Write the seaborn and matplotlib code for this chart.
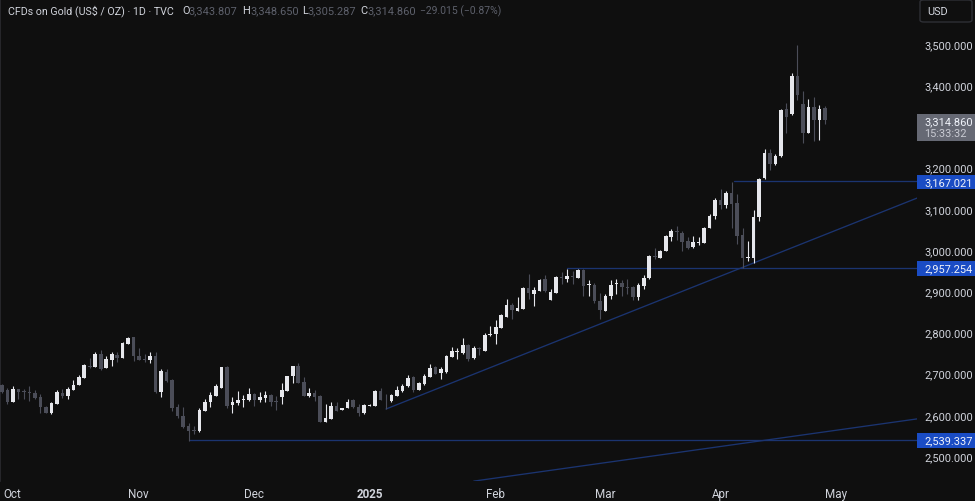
import matplotlib
matplotlib.use("Agg")
import matplotlib.pyplot as plt
from matplotlib.patches import Rectangle, FancyBboxPatch
import numpy as np
import seaborn as sns

opens = [2672,2659,2632,2662,2658,2656,2653,2642,2620,2604,2627,2654,2645,2661,2673,2690,2718,2717,2748,2714,
 2733,2746,2739,2772,2788,2742,2735,2734,2743,2656,2705,2684,2619,2598,2572,2564,2560,2609,2630,2646,
 2666,2717,2624,2629,2636,2635,2651,2637,2640,2648,2634,2644,2658,2693,2718,2679,2646,2652,2646,2583,
 2590,2621,2612,2616,2635,2620,2604,2622,2622,2658,2637,2633,2646,2658,2669,2691,2661,2674,2692,2715,
 2701,2703,2741,2753,2749,2770,2737,2763,2756,2793,2796,2811,2838,2866,2853,2857,2907,2894,2901,2929,
 2879,2896,2934,2930,2936,2933,2951,2915,2916,2876,2853,2889,2917,2919,2910,2909,2885,2913,2931,2986,
 2981,2998,3032,3045,3041,3021,3007,3017,3017,3054,3083,3121,3110,3138,3114,3037,2980,2980,3079,3174,
 3236,3208,3227,3341,3330,3422,3354,3285,3347,3316,3343.807]
highs = [2675,2664,2671,2662,2663,2669,2659,2650,2622,2630,2661,2663,2667,2684,2697,2723,2739,2752,2758,2742,
 2752,2752,2776,2790,2790,2761,2748,2752,2752,2710,2710,2687,2625,2618,2580,2574,2616,2638,2655,2675,
 2717,2719,2642,2658,2648,2665,2653,2656,2658,2651,2646,2676,2695,2719,2726,2691,2664,2659,2648,2626,
 2630,2632,2617,2638,2638,2626,2626,2625,2661,2664,2650,2650,2669,2675,2697,2693,2679,2698,2723,2718,
 2715,2746,2764,2761,2786,2772,2766,2765,2798,2816,2830,2845,2881,2871,2887,2910,2942,2909,2930,2939,
 2905,2936,2946,2955,2950,2955,2953,2928,2919,2895,2893,2926,2930,2927,2930,2913,2919,2939,2988,3004,
 3001,3036,3051,3058,3047,3031,3035,3031,3057,3087,3125,3148,3142,3166,3136,3053,3022,3097,3175,3244,
 3244,3232,3341,3357,3430,3498,3386,3367,3371,3352,3348.65]
lows = [2653,2626,2630,2638,2638,2634,2638,2604,2604,2603,2626,2640,2638,2660,2672,2689,2714,2716,2709,2713,
 2718,2727,2739,2771,2731,2733,2729,2726,2652,2644,2680,2610,2591,2569,2537,2553,2559,2608,2618,2646,
 2665,2616,2604,2624,2620,2634,2622,2630,2630,2622,2612,2626,2657,2677,2676,2645,2643,2634,2582,2582,
 2589,2608,2611,2616,2617,2598,2603,2622,2621,2635,2614,2632,2646,2656,2668,2656,2660,2672,2691,2699,
 2688,2702,2740,2735,2748,2731,2735,2745,2755,2792,2773,2810,2837,2832,2852,2856,2881,2865,2900,2899,
 2878,2896,2917,2923,2918,2932,2889,2889,2871,2832,2853,2881,2892,2889,2893,2879,2879,2905,2930,2978,
 2981,2997,3022,3025,2998,3002,3006,3011,3016,3053,3075,3100,3103,3054,3015,2957,2973,2968,3071,3173,
 3193,3207,3226,3284,3328,3365,3260,3284,3265,3267,3305.287]
closes = [2656,2632,2663,2656,2655,2653,2640,2618,2605,2629,2656,2646,2663,2673,2692,2721,2715,2748,2711,2735,
 2747,2739,2774,2786,2742,2734,2734,2743,2656,2707,2682,2616,2596,2570,2561,2561,2612,2632,2649,2671,
 2715,2622,2632,2635,2638,2650,2637,2642,2649,2630,2631,2659,2693,2718,2677,2646,2653,2644,2583,2592,
 2622,2609,2616,2632,2620,2604,2624,2624,2658,2637,2635,2647,2661,2670,2690,2659,2676,2695,2714,2700,
 2710,2743,2755,2755,2770,2735,2762,2759,2793,2797,2813,2841,2866,2855,2858,2908,2896,2904,2926,2901,
 2898,2934,2932,2937,2934,2951,2913,2917,2875,2854,2889,2915,2919,2909,2908,2885,2915,2932,2986,2983,
 2998,3033,3047,3043,3019,3006,3019,3018,3054,3083,3121,3110,3138,3112,3035,2980,2983,3081,3172,3235,
 3209,3228,3340,3324,3423,3377,3285,3347,3316,3342,3314.86]

month_labels = ["Oct", "Nov", "Dec", "2025", "Feb", "Mar", "Apr", "May"]
month_bars = [1.9, 24.8, 46, 67, 90, 110, 131, 152]
price_ticks = [2500, 2600, 2700, 2800, 2900, 3000, 3100, 3200, 3400, 3500]

levels = [2539.337, 2957.254, 3167.021]
level_start = [34, 103, 133.5]
trend_x = [[70, 166.8], [86, 166.8]]
trend_y = [[2614, 3126], [2439, 2590]]

W, H = 975, 502
BG = "#0f0f0f"
TXT = "#d1d4dc"
UP = "#e6e7ec"
DOWN = "#4b4d58"
LINE = "#1b3470"
BLUE = "#1a4cc4"
FS = 7.9

sns.set_theme(style="dark", rc={"axes.facecolor": BG, "figure.facecolor": BG})
plt.rcParams["font.family"] = ["Roboto", "DejaVu Sans"]

fig = plt.figure(figsize=(W / 100, H / 100), dpi=100)
ax = fig.add_axes([0, 1 - 482 / H, 917 / W, 482 / H])
ax.set_facecolor(BG)

idx = np.arange(len(opens))
o, h, l, c = map(np.array, (opens, highs, lows, closes))
up = c >= o
colors = np.where(up, UP, DOWN)

for xs, ys in zip(trend_x, trend_y):
    sns.lineplot(x=xs, y=ys, ax=ax, color=LINE, lw=0.95, estimator=None, sort=False, zorder=1)
for lv, st in zip(levels, level_start):
    sns.lineplot(x=[st, 166.8], y=[lv, lv], ax=ax, color=LINE, lw=0.95, estimator=None, zorder=1)

ax.vlines(idx, l, h, colors=colors, lw=0.8, zorder=2)
ax.bar(idx, np.maximum(np.abs(c - o), 1.5), bottom=np.minimum(o, c), width=0.66, color=colors, lw=0, zorder=3)

ax.set_xlim(-0.365, 166.8)
ax.set_ylim(2439.3, 3609.2)
ax.yaxis.tick_right()
ax.set_yticks(price_ticks, [f"{v:,.3f}" for v in price_ticks])
ax.set_xticks(month_bars, month_labels)
ax.tick_params(axis="y", length=0, labelsize=FS, labelcolor=TXT, pad=5)
ax.tick_params(axis="x", length=0, labelsize=8.4, labelcolor=TXT, pad=4)
for t in ax.get_xticklabels():
    if t.get_text() == "2025":
        t.set_fontweight("bold")
ax.grid(False)
for s in ["top", "right", "bottom"]:
    ax.spines[s].set_visible(False)
ax.spines["left"].set_color("#2b2b30")
ax.spines["left"].set_linewidth(1.2)
ax.set_xlabel("")
ax.set_ylabel("")


def ftext(x, y, s, **kw):
    kw.setdefault("fontsize", FS)
    kw.setdefault("va", "center")
    return fig.text(x / W, 1 - y / H, s, parse_math=False, **kw)


def box(x0, y0, x1, y1, color):
    fig.add_artist(Rectangle((x0 / W, 1 - y1 / H), (x1 - x0) / W, (y1 - y0) / H,
                             transform=fig.transFigure, facecolor=color, edgecolor="none", zorder=5))


for lv, y0, y1, lab in [(3167.021, 176, 190, "3,167.021"), (2957.254, 262, 277, "2,957.254"),
                        (2539.337, 434, 449, "2,539.337")]:
    box(917, y0, 975, y1, BLUE)
    ftext(924, (y0 + y1) / 2, lab, color="#f0f3fa", zorder=6)

box(917, 115, 975, 142, "#666974")
ftext(924, 122, "3,314.860", color="#f0f3fa", zorder=6)
ftext(924, 134, "15:33:32", color="#c9cbd3", zorder=6)

fig.add_artist(FancyBboxPatch((920 / W, 1 - 23 / H), 52 / W, 22 / H, transform=fig.transFigure,
                              boxstyle="round,pad=0,rounding_size=0.004", facecolor=BG,
                              edgecolor="#2e2f35", lw=1, zorder=5))
ftext(927, 12, "USD", color=TXT, zorder=6)

GREY = "#5d606b"
ftext(8, 11, "CFDs on Gold (US$ / OZ) · 1D · TVC", color=TXT, fontsize=7.7)
for lx, letter, vx, val in [(182, "O", 188.5, "3,343.807"), (242, "H", 250, "3,348.650"),
                            (302, "L", 307.5, "3,305.287"), (360, "C", 367, "3,314.860")]:
    ftext(lx, 11, letter, color=TXT)
    ftext(vx, 11, val, color=GREY)
ftext(420, 11, "−29.015 (−0.87%)", color=GREY, fontsize=7.5)

fig.savefig("out.png", dpi=100, facecolor=BG)
